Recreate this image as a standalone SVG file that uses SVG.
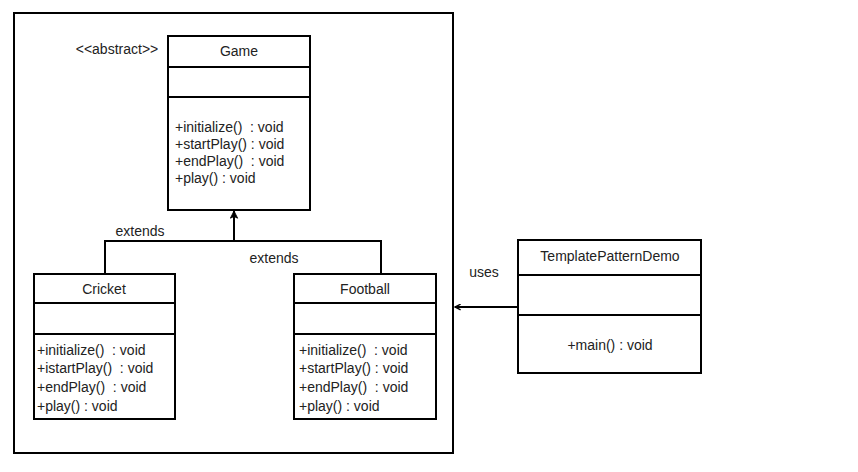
<svg xmlns="http://www.w3.org/2000/svg" width="858" height="472" viewBox="0 0 858 472" xml:space="preserve">
<defs>
<style>
.box{fill:#fff;stroke:#000;stroke-width:2}
.ln{stroke:#000;stroke-width:2;fill:none}
text{font-family:"Liberation Sans",Arial,sans-serif;font-size:14px;fill:#222;white-space:pre}
.c{text-anchor:middle}
</style>
<marker id="arr" viewBox="0 0 10 10" refX="9" refY="5" markerWidth="7" markerHeight="7" orient="auto" markerUnits="userSpaceOnUse">
<path d="M1,1 L9,5 L1,9" fill="none" stroke="#000" stroke-width="2"/>
</marker>
<marker id="arrB" viewBox="0 0 10 10" refX="9" refY="5" markerWidth="9" markerHeight="9" orient="auto" markerUnits="userSpaceOnUse">
<path d="M1,1 L9,5 L1,9 L3,5 Z" fill="#000" stroke="#000" stroke-width="1"/>
</marker>
</defs>
<rect width="858" height="472" fill="#fff"/>
<rect x="14" y="13" width="439" height="440" class="ln"/>
<g id="connectors">
<path d="M105,273 V241 H381 V273" class="ln"/>
<path d="M234,241 V211" class="ln" stroke-width="2.5" marker-end="url(#arrB)"/>
<path d="M518,307 H455" class="ln" marker-end="url(#arr)"/>
<text x="140" y="236" class="c">extends</text>
<text x="274" y="263" class="c">extends</text>
<text x="484" y="277" class="c">uses</text>
</g>
<g id="game">
<text x="117" y="54" class="c">&lt;&lt;abstract&gt;&gt;</text>
<rect x="168" y="36" width="142" height="174" class="box"/>
<line x1="168" y1="67" x2="310" y2="67" class="ln"/>
<line x1="168" y1="97" x2="310" y2="97" class="ln"/>
<text x="239" y="56" class="c">Game</text>
<text x="175" y="132">+initialize()  : void</text>
<text x="175" y="149">+startPlay() : void</text>
<text x="175" y="166">+endPlay()  : void</text>
<text x="175" y="183">+play() : void</text>
</g>
<g id="cricket">
<rect x="34" y="274" width="141" height="145" class="box"/>
<line x1="34" y1="303" x2="175" y2="303" class="ln"/>
<line x1="34" y1="334" x2="175" y2="334" class="ln"/>
<text x="104" y="294" class="c">Cricket</text>
<text x="37" y="355">+initialize()  : void</text>
<text x="37" y="373">+istartPlay()  : void</text>
<text x="37" y="392">+endPlay()  : void</text>
<text x="37" y="411">+play() : void</text>
</g>
<g id="football">
<rect x="294" y="274" width="142" height="145" class="box"/>
<line x1="294" y1="303" x2="436" y2="303" class="ln"/>
<line x1="294" y1="334" x2="436" y2="334" class="ln"/>
<text x="365" y="294" class="c">Football</text>
<text x="299" y="355">+initialize()  : void</text>
<text x="299" y="373">+startPlay() : void</text>
<text x="299" y="392">+endPlay()  : void</text>
<text x="299" y="411">+play() : void</text>
</g>
<g id="templatePatternDemo">
<rect x="518" y="240" width="183" height="133" class="box"/>
<line x1="518" y1="275" x2="701" y2="275" class="ln"/>
<line x1="518" y1="315" x2="701" y2="315" class="ln"/>
<text x="610" y="261" class="c">TemplatePatternDemo</text>
<text x="610" y="350" class="c">+main() : void</text>
</g>
</svg>
